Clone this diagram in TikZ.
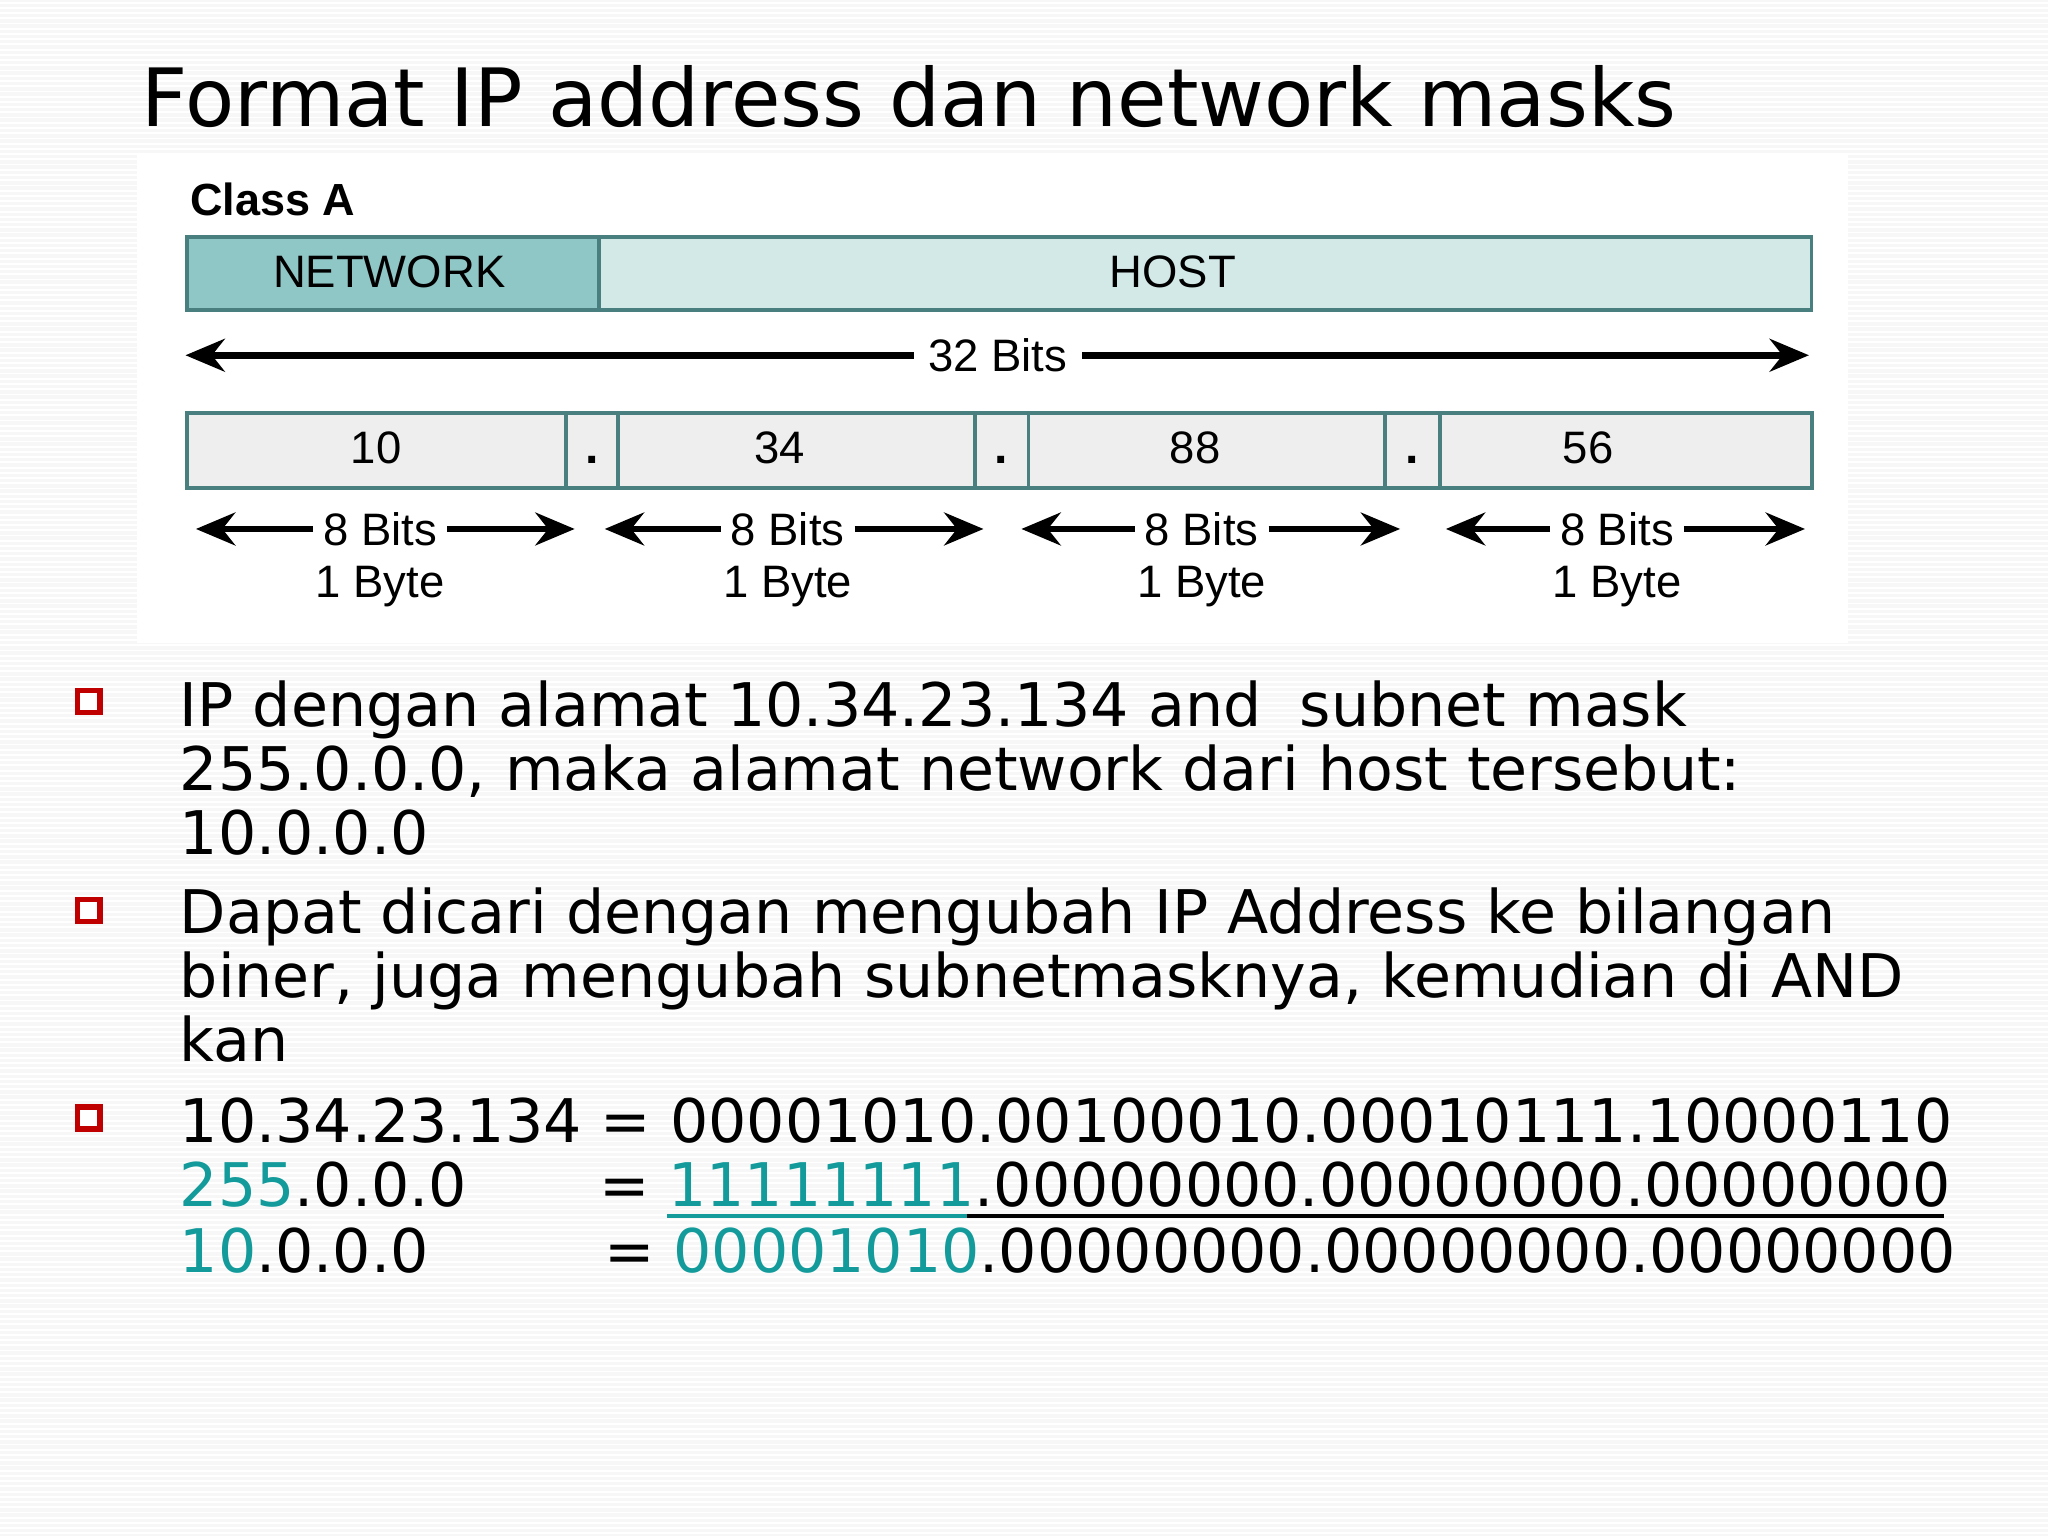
\documentclass[tikz,border=0pt]{standalone}
\usepackage{fontspec}
\setmainfont{DejaVu Sans}
\newfontfamily\arial{Liberation Sans}
\usetikzlibrary{arrows.meta}
\definecolor{tealtx}{HTML}{139A9A}
\definecolor{netfill}{HTML}{8FC7C7}
\definecolor{hostfill}{HTML}{D3E9E8}
\definecolor{boxln}{HTML}{4A7F7F}
\definecolor{bulletred}{HTML}{C00000}
\tikzset{
  txt/.style={anchor=base west,inner sep=0pt,font=\fontsize{13.1}{15}\selectfont},
  dia/.style={inner sep=0pt,font=\arial\fontsize{9.9}{12}\selectfont},
  bul/.style={draw=bulletred,line width=1.2pt,fill=white,minimum size=0.17cm,inner sep=0pt},
  arr/.style={line width=1.5pt,-{Stealth[length=0.3cm,width=0.25cm]}},
  seg/.style={draw=boxln,line width=0.8pt}
}
\begin{document}
\begin{tikzpicture}[x=0.01cm,y=-0.01cm]
\useasboundingbox (0,0) rectangle (1568,1176);
\fill[gray!6] (0,0) rectangle (1568,1176);
\foreach \y in {2,6,...,1176} \draw[white,line width=0.4pt] (0,\y) -- (1568,\y);
\node[anchor=base west,inner sep=0pt,font=\fontsize{17.5}{20}\selectfont] (title) at (108,97) {Format IP address dan network masks};
% diagram panel
\fill[white] (105,118) rectangle (1415,492);
\node[dia,anchor=base west,font=\arial\bfseries\fontsize{9.8}{12}\selectfont] (cls) at (145,165) {Class A};
\node[seg,fill=netfill,minimum width=3.15cm,minimum height=0.56cm,anchor=north west,dia] (net) at (142,180) {};
\node[seg,fill=hostfill,minimum width=9.28cm,minimum height=0.56cm,anchor=north west,dia] (host) at (457,180) {};
\node[dia] at (298,208) {NETWORK};
\node[dia] at (898,208) {HOST};
\node[dia,fill=white,inner xsep=3pt] (b32) at (764,272) {32 Bits};
\coordinate (l32) at (142,272); \coordinate (r32) at (1385,272);
\draw[arr] (b32) -- (l32); \draw[arr] (b32) -- (r32);
% byte row
\foreach \a/\b/\n in {142/432/o1,432/472/d1,472/745/o2,745/786/d2,786/1059/o3,1059/1101/d3,1101/1386/o4}
  \node[seg,fill=gray!13,anchor=north west,minimum height=0.57cm,minimum width={(\b-\a)*0.01cm}] (\n) at (\a,315) {};
\node[dia] at (288,343) {10}; \node[dia] at (597,343) {34}; \node[dia] at (915,343) {88}; \node[dia] at (1216,343) {56};
\node[dia,font=\arial\bfseries\fontsize{10.5}{12}\selectfont] at ([yshift=-2pt]d1) {.};
\node[dia,font=\arial\bfseries\fontsize{10.5}{12}\selectfont] at ([yshift=-2pt]d2) {.};
\node[dia,font=\arial\bfseries\fontsize{10.5}{12}\selectfont] at ([yshift=-2pt]d3) {.};
\foreach \l/\c/\r/\n in {150/291/440/a,463/603/753/b,782/920/1072/c,1107/1238/1382/d}{
  \node[dia,inner xsep=2pt] (e\n) at (\c,405) {8 Bits};
  \coordinate (el\n) at (\l,405); \coordinate (er\n) at (\r,405);
  \draw[arr] (e\n) -- (el\n); \draw[arr] (e\n) -- (er\n);
  \node[dia] (y\n) at (\c,449) {1 Byte};
}
% bullets
\node[bul] (q1) at (68,537) {}; \node[bul] (q2) at (68,697) {}; \node[bul] (q3) at (68,856) {};
\node[txt] (t1) at (137,556) {IP dengan alamat 10.34.23.134 and\ \ subnet mask};
\node[txt] (t2) at (137,605) {255.0.0.0, maka alamat network dari host tersebut:};
\node[txt] (t3) at (137,654) {10.0.0.0};
\node[txt] (t4) at (137,715) {Dapat dicari dengan mengubah IP Address ke bilangan};
\node[txt] (t5) at (137,764) {biner, juga mengubah subnetmasknya, kemudian di AND};
\node[txt] (t6) at (137,813) {kan};
\node[txt] (t7) at (137,875) {10.34.23.134 = 00001010.00100010.00010111.10000110};
\node[txt] (t8) at (137,924) {\textcolor{tealtx}{255}.0.0.0};
\node[txt] (t8e) at (458,924) {=};
\node[txt] (t8b) at (511,924) {\textcolor{tealtx}{11111111}.00000000.00000000.00000000};
\draw[tealtx,line width=1pt] (511,931) -- (740,931);
\draw[black,line width=1pt] (740,931) -- (1488,931);
\node[txt] (t9) at (137,974) {\textcolor{tealtx}{10}.0.0.0};
\node[txt] (t9e) at (462,974) {=};
\node[txt] (t9b) at (515,974) {\textcolor{tealtx}{00001010}.00000000.00000000.00000000};
\end{tikzpicture}
\end{document}
